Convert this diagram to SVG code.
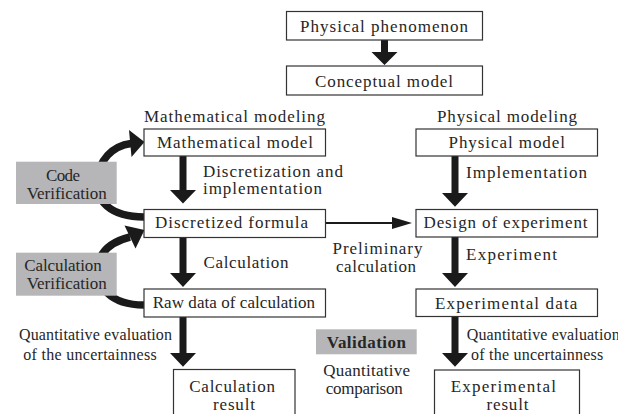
<svg xmlns="http://www.w3.org/2000/svg" width="631" height="414" viewBox="0 0 631 414" font-family="Liberation Serif, DejaVu Serif, Times New Roman, serif">
<style>
text{font-size:17px;fill:#262626}
.sm{font-size:16px}
.b{font-weight:bold}
.box{fill:#fff;stroke:#333;stroke-width:1.2}
.gray{fill:#b6b6b8}
.arc{fill:none;stroke:#1a1a1a;stroke-width:7.5}
.thick{fill:#1a1a1a}
</style>
<defs>
<clipPath id="clipR"><rect x="0" y="0" width="618" height="414"/></clipPath>
</defs>

<g id="connectors">
<path class="thick" d="M381,40 H388 V52 H397.5 L384.5,65 L371.5,52 H381 Z"/>
<path class="thick" d="M179.5,156 H186.5 V190 H196 L183,203.5 L170,190 H179.5 Z"/>
<path class="thick" d="M179.5,238 H186.5 V273 H196 L183,287 L170,273 H179.5 Z"/>
<path class="thick" d="M179.5,317 H186.5 V353 H196 L183,366.7 L170,353 H179.5 Z"/>
<path class="thick" d="M451.5,156 H458.5 V193 H468 L455,206.7 L442,193 H451.5 Z"/>
<path class="thick" d="M451.5,237 H458.5 V273 H468 L455,287 L442,273 H451.5 Z"/>
<path class="thick" d="M451.5,316.5 H458.5 V353 H468 L455,366.7 L442,353 H451.5 Z"/>
<line x1="326" y1="223" x2="395" y2="223" stroke="#1a1a1a" stroke-width="2"/>
<path d="M392,217 L412,223 L392,229 Z" fill="#1a1a1a"/>
<path class="arc" d="M144,217 C110,217 95,200 97,181 C99,160 112,146 131,143.5"/>
<path class="thick" d="M129,130 L144.5,142 L131.5,157 Z"/>
<path class="arc" d="M144,305 C110,305 95,286 98,265 C101,249 114,241 130,237"/>
<path class="thick" d="M124.5,225.5 L144.5,230 L135.5,248.5 Z"/>
</g>

<g id="phenomenon">
<rect class="box" x="286.5" y="11.5" width="196" height="28.5"/>
<text x="300" y="31.5" textLength="168" lengthAdjust="spacing">Physical phenomenon</text>
</g>
<g id="conceptual">
<rect class="box" x="286.5" y="66" width="196" height="29"/>
<text x="315" y="86.5" textLength="138" lengthAdjust="spacing">Conceptual model</text>
</g>

<g id="math-heading">
<text x="144" y="122" textLength="181" lengthAdjust="spacing">Mathematical modeling</text>
</g>
<g id="phys-heading">
<text x="437" y="122" textLength="140" lengthAdjust="spacing">Physical modeling</text>
</g>

<g id="math-model">
<rect class="box" x="144" y="129" width="181.5" height="27"/>
<text x="157" y="147.5" textLength="156" lengthAdjust="spacing">Mathematical model</text>
</g>
<g id="phys-model">
<rect class="box" x="416" y="129" width="181.5" height="27"/>
<text x="448.5" y="147.5" textLength="116.5" lengthAdjust="spacing">Physical model</text>
</g>

<g id="label-discretization">
<text x="203" y="176.5" textLength="140" lengthAdjust="spacing">Discretization and</text>
<text x="203" y="194" textLength="119" lengthAdjust="spacing">implementation</text>
</g>
<g id="label-implementation">
<text x="466" y="177.5" textLength="121" lengthAdjust="spacing">Implementation</text>
</g>

<g id="code-verification">
<rect class="gray" x="16" y="161.7" width="100.7" height="42.3"/>
<text x="46" y="180.5" textLength="34" lengthAdjust="spacing">Code</text>
<text x="26.7" y="199" textLength="80" lengthAdjust="spacing">Verification</text>
</g>

<g id="discretized">
<rect class="box" x="144" y="209.5" width="181.5" height="28"/>
<text x="155" y="228.3" textLength="153" lengthAdjust="spacing">Discretized formula</text>
</g>
<g id="design">
<rect class="box" x="416" y="209.5" width="181.5" height="27.5"/>
<text x="423.5" y="227.5" textLength="164" lengthAdjust="spacing">Design of experiment</text>
</g>

<g id="label-preliminary">
<text x="332.5" y="254.3" textLength="90" lengthAdjust="spacing">Preliminary</text>
<text x="336" y="271.7" textLength="80" lengthAdjust="spacing">calculation</text>
</g>
<g id="label-calculation">
<text x="203.5" y="267.5" textLength="85" lengthAdjust="spacing">Calculation</text>
</g>
<g id="label-experiment">
<text x="466" y="259.5" textLength="91" lengthAdjust="spacing">Experiment</text>
</g>

<g id="calc-verification">
<rect class="gray" x="16" y="252.7" width="100.7" height="43"/>
<text x="24.3" y="270.7" textLength="77.4" lengthAdjust="spacing">Calculation</text>
<text x="26.7" y="289.3" textLength="80" lengthAdjust="spacing">Verification</text>
</g>

<g id="raw-data">
<rect class="box" x="144" y="289" width="181.5" height="28"/>
<text x="152.7" y="308.3" textLength="162.3" lengthAdjust="spacing">Raw data of calculation</text>
</g>
<g id="exp-data">
<rect class="box" x="416" y="289" width="181.5" height="27.5"/>
<text x="435" y="309" textLength="142.3" lengthAdjust="spacing">Experimental data</text>
</g>

<g id="label-uncertainty-left">
<text class="sm" x="19" y="340" textLength="153" lengthAdjust="spacing">Quantitative evaluation</text>
<text class="sm" x="23.3" y="360" textLength="133.4" lengthAdjust="spacing">of the uncertainness</text>
</g>
<g id="label-uncertainty-right" clip-path="url(#clipR)">
<text class="sm" x="466.7" y="340" textLength="153" lengthAdjust="spacing">Quantitative evaluation</text>
<text class="sm" x="471" y="360" textLength="132.3" lengthAdjust="spacing">of the uncertainness</text>
</g>

<g id="validation">
<rect class="gray" x="316" y="329.3" width="100.7" height="25"/>
<text class="b" x="326.7" y="348.3" textLength="79.3" lengthAdjust="spacing">Validation</text>
<text x="323.3" y="376" textLength="86.7" lengthAdjust="spacing">Quantitative</text>
<text x="325.7" y="394.3" textLength="77" lengthAdjust="spacing">comparison</text>
</g>

<g id="calc-result">
<rect class="box" x="173.5" y="369.5" width="121.5" height="60"/>
<text x="189.3" y="391.7" textLength="85.7" lengthAdjust="spacing">Calculation</text>
<text x="213" y="409.5" textLength="42" lengthAdjust="spacing">result</text>
</g>
<g id="exp-result">
<rect class="box" x="434.5" y="370" width="145" height="60"/>
<text x="450.7" y="391.7" textLength="105.3" lengthAdjust="spacing">Experimental</text>
<text x="486.5" y="409.5" textLength="42" lengthAdjust="spacing">result</text>
</g>
</svg>
